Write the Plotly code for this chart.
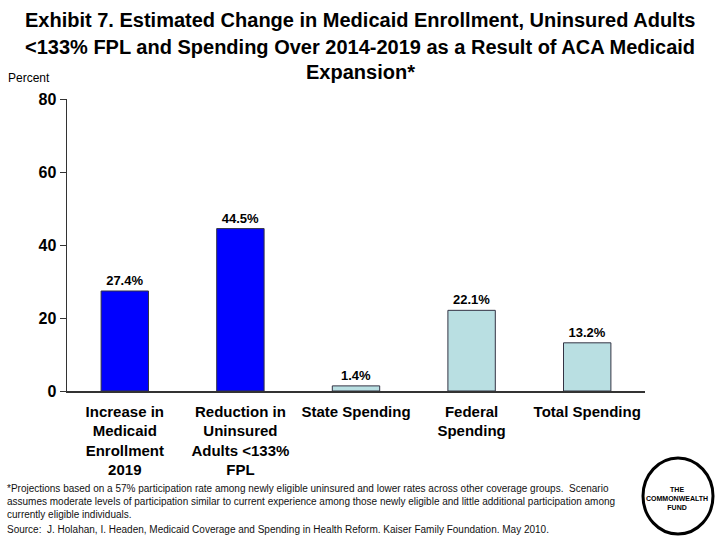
import plotly.graph_objects as go

categories = ["Increase in<br>Medicaid<br>Enrollment<br>2019",
              "Reduction in<br>Uninsured<br>Adults <133%<br>FPL",
              "State Spending",
              "Federal<br>Spending",
              "Total Spending"]
values = [27.4, 44.5, 1.4, 22.1, 13.2]
value_labels = ["27.4%", "44.5%", "1.4%", "22.1%", "13.2%"]
bar_colors = ["#0000FF", "#0000FF", "#B9DFE2", "#B9DFE2", "#B9DFE2"]
y_ticks = [0, 20, 40, 60, 80]
title_lines = ["Exhibit 7. Estimated Change in Medicaid Enrollment, Uninsured Adults",
               "<133% FPL and Spending Over 2014-2019 as a Result of ACA Medicaid",
               "Expansion*"]

BODY = "Liberation Sans, Arial"

L, R, T, B = 67, 75, 99, 149
W, H = 720, 540

fig = go.Figure()
fig.add_trace(go.Bar(
    x=categories, y=values,
    marker=dict(color=bar_colors, line=dict(color="#333344", width=1)),
    text=value_labels, textposition="outside",
    textfont=dict(family=BODY, size=13, color="black", weight="bold"),
    cliponaxis=False, width=0.41, hoverinfo="skip",
))

fig.update_layout(
    width=W, height=H,
    paper_bgcolor="white", plot_bgcolor="white",
    margin=dict(l=L, r=R, t=T, b=B),
    showlegend=False,
    xaxis=dict(
        showline=True, linecolor="#333333", linewidth=1.5,
        ticks="", showgrid=False,
        tickfont=dict(family=BODY, size=15, color="black", weight="bold"),
        ticklabelstandoff=6,
    ),
    yaxis=dict(
        range=[0, 80], tickvals=y_ticks,
        showline=True, linecolor="#333333", linewidth=1.5,
        ticks="outside", ticklen=6, tickcolor="#333333",
        showgrid=False, zeroline=False,
        tickfont=dict(family=BODY, size=16, color="black", weight="bold"),
    ),
    font=dict(family=BODY, color="black"),
)

# paper coords relative to plot area, from pixel positions
def px(x):
    return (x - L) / (W - L - R)

def py(y):
    return (H - B - y) / (H - B - T)

for line, yc in zip(title_lines, [20, 47, 72]):
    fig.add_annotation(text=line, x=0.5, xref="paper", y=py(yc), yref="paper",
                       xanchor="center", yanchor="middle", showarrow=False,
                       xshift=(360 - (L + (W - L - R) / 2)),
                       font=dict(family=BODY, size=20, color="black", weight="bold"))

fig.add_annotation(text="Percent", x=px(6), y=py(78), xref="paper", yref="paper",
                   xanchor="left", yanchor="middle", showarrow=False,
                   font=dict(family=BODY, size=12, color="black"))

foot = ("*Projections based on a 57% participation rate among newly eligible uninsured and lower rates across other coverage groups.  Scenario<br>"
        "assumes moderate levels of participation similar to current experience among those newly eligible and little additional participation among<br>"
        "currently eligible individuals.")
fig.add_annotation(text=foot, x=px(5), y=py(481), xref="paper", yref="paper",
                   xanchor="left", yanchor="top", align="left", showarrow=False,
                   font=dict(family=BODY, size=10, color="#111111"))
fig.add_annotation(text="Source:  J. Holahan, I. Headen, Medicaid Coverage and Spending in Health Reform. Kaiser Family Foundation. May 2010.",
                   x=px(5), y=py(529), xref="paper", yref="paper",
                   xanchor="left", yanchor="middle", align="left", showarrow=False,
                   font=dict(family=BODY, size=10, color="#111111"))

fig.add_shape(type="circle", xref="paper", yref="paper",
              x0=px(643), x1=px(713), y0=py(458), y1=py(534),
              line=dict(color="black", width=3), fillcolor="white")
fig.add_annotation(text="THE<br>COMMONWEALTH<br>FUND", x=px(677), y=py(498),
                   xref="paper", yref="paper", xanchor="center", yanchor="middle",
                   showarrow=False, font=dict(family=BODY, size=7, color="black", weight="bold"))

fig.write_html("out.html",
               config={"displayModeBar": False, "staticPlot": True},
               post_script="document.body.style.margin='0';document.body.style.padding='0';")
